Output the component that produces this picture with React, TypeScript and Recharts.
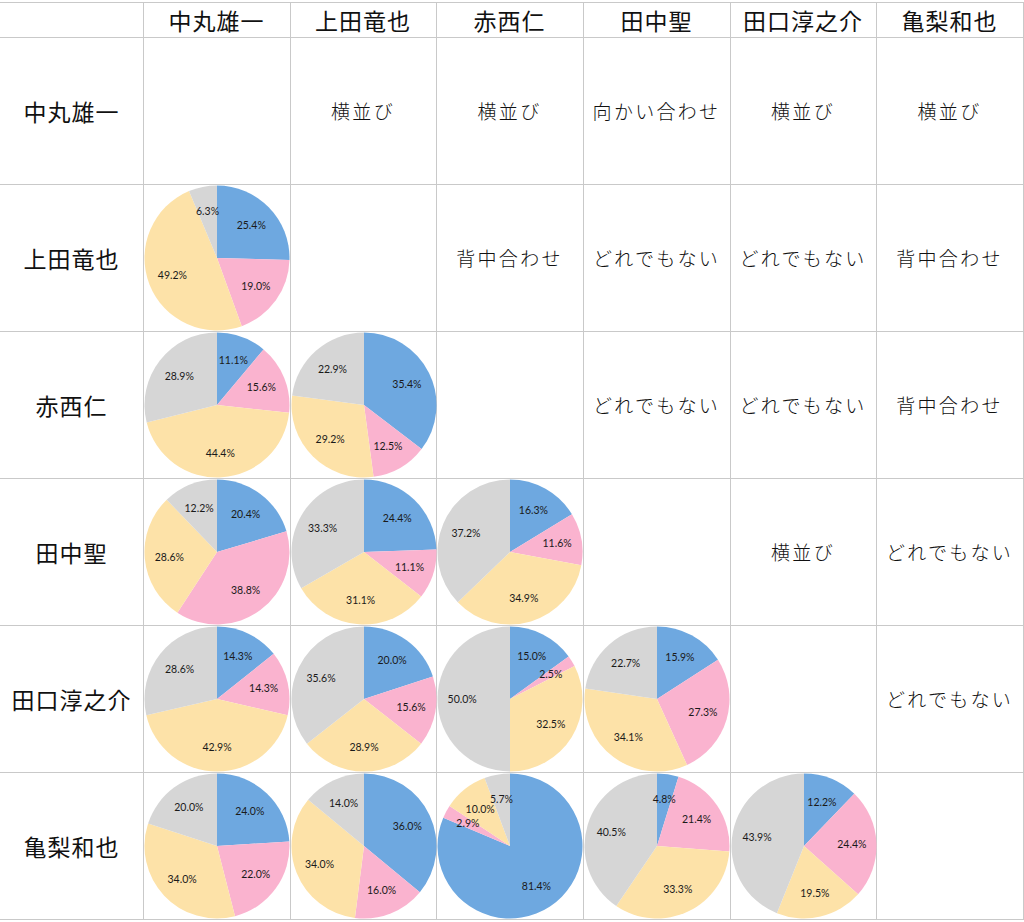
import { PieChart, Pie, Cell } from 'recharts';

const members = ['中丸雄一', '上田竜也', '赤西仁', '田中聖', '田口淳之介', '亀梨和也'];

const sliceColors = ['#6ea8e0', '#fab3cf', '#fde2a8', '#d6d6d6'];

// upper triangle: relation text, keyed "row-col"
const relations: Record<string, string> = {
  '0-1': '横並び',
  '0-2': '横並び',
  '0-3': '向かい合わせ',
  '0-4': '横並び',
  '0-5': '横並び',
  '1-2': '背中合わせ',
  '1-3': 'どれでもない',
  '1-4': 'どれでもない',
  '1-5': '背中合わせ',
  '2-3': 'どれでもない',
  '2-4': 'どれでもない',
  '2-5': '背中合わせ',
  '3-4': '横並び',
  '3-5': 'どれでもない',
  '4-5': 'どれでもない',
};

// lower triangle: shares in %, order blue / pink / yellow / gray
const ueda_nakamaru = [25.4, 19.0, 49.2, 6.3];
const akanishi_nakamaru = [11.1, 15.6, 44.4, 28.9];
const akanishi_ueda = [35.4, 12.5, 29.2, 22.9];
const tanaka_nakamaru = [20.4, 38.8, 28.6, 12.2];
const tanaka_ueda = [24.4, 11.1, 31.1, 33.3];
const tanaka_akanishi = [16.3, 11.6, 34.9, 37.2];
const taguchi_nakamaru = [14.3, 14.3, 42.9, 28.6];
const taguchi_ueda = [20.0, 15.6, 28.9, 35.6];
const taguchi_akanishi = [15.0, 2.5, 32.5, 50.0];
const taguchi_tanaka = [15.9, 27.3, 34.1, 22.7];
const kamenashi_nakamaru = [24.0, 22.0, 34.0, 20.0];
const kamenashi_ueda = [36.0, 16.0, 34.0, 14.0];
const kamenashi_akanishi = [81.4, 2.9, 10.0, 5.7];
const kamenashi_tanaka = [4.8, 21.4, 33.3, 40.5];
const kamenashi_taguchi = [12.2, 24.4, 19.5, 43.9];

const pies: Record<string, number[]> = {
  '1-0': ueda_nakamaru,
  '2-0': akanishi_nakamaru,
  '2-1': akanishi_ueda,
  '3-0': tanaka_nakamaru,
  '3-1': tanaka_ueda,
  '3-2': tanaka_akanishi,
  '4-0': taguchi_nakamaru,
  '4-1': taguchi_ueda,
  '4-2': taguchi_akanishi,
  '4-3': taguchi_tanaka,
  '5-0': kamenashi_nakamaru,
  '5-1': kamenashi_ueda,
  '5-2': kamenashi_akanishi,
  '5-3': kamenashi_tanaka,
  '5-4': kamenashi_taguchi,
};

const colX = [0, 143, 290, 436, 583, 730, 876, 1023];
const rowY = [2, 37, 184, 331, 478, 625, 772, 919];
const lineColor = '#c9c9c9';
const jpFont = '"Noto Sans CJK JP", "Noto Sans", sans-serif';

const RAD = Math.PI / 180;

function renderLabel(props: any) {
  const { cx, cy, midAngle, outerRadius, value } = props;
  const r = outerRadius * 0.66;
  const x = cx + r * Math.cos(-midAngle * RAD);
  const y = cy + r * Math.sin(-midAngle * RAD);
  return (
    <text
      x={x}
      y={y}
      textAnchor="middle"
      dominantBaseline="central"
      fill="#1a1a1a"
      fontSize={10.5}
      fontFamily="Lato, sans-serif"
    >
      {`${Number(value).toFixed(1)}%`}
    </text>
  );
}

function SharePie({ values }: { values: number[] }) {
  const data = values.map((v, i) => ({ name: `s${i}`, value: v }));
  return (
    <PieChart width={146} height={146}>
      <Pie
        data={data}
        dataKey="value"
        cx="50%"
        cy="50%"
        outerRadius={72.5}
        startAngle={90}
        endAngle={-270}
        stroke="none"
        labelLine={false}
        label={renderLabel}
        isAnimationActive={false}
      >
        {data.map((_, i) => (
          <Cell key={i} fill={sliceColors[i]} />
        ))}
      </Pie>
    </PieChart>
  );
}

function Box({ x0, x1, y0, y1, children }: any) {
  return (
    <div
      style={{
        position: 'absolute',
        left: x0,
        top: y0,
        width: x1 - x0,
        height: y1 - y0,
        display: 'flex',
        alignItems: 'center',
        justifyContent: 'center',
      }}
    >
      {children}
    </div>
  );
}

export default function App() {
  return (
    <div
      style={{
        position: 'absolute',
        left: 0,
        top: 0,
        width: 1024,
        height: 922,
        background: '#fff',
        overflow: 'hidden',
        fontFamily: jpFont,
      }}
    >
      {/* grid lines */}
      {rowY.map((y) => (
        <div key={`h${y}`} style={{ position: 'absolute', left: 0, top: y, width: 1024, height: 1, background: lineColor }} />
      ))}
      {colX.slice(1).map((x) => (
        <div key={`v${x}`} style={{ position: 'absolute', left: x, top: rowY[0], width: 1, height: rowY[7] - rowY[0], background: lineColor }} />
      ))}

      {/* column headers */}
      {members.map((m, j) => (
        <Box key={`ch${j}`} x0={colX[j + 1]} x1={colX[j + 2]} y0={rowY[0]} y1={rowY[1]}>
          <span style={{ fontSize: 23, color: '#111', letterSpacing: 1 }}>{m}</span>
        </Box>
      ))}

      {/* row headers */}
      {members.map((m, i) => (
        <Box key={`rh${i}`} x0={colX[0]} x1={colX[1]} y0={rowY[i + 1]} y1={rowY[i + 2]}>
          <span style={{ fontSize: 23, color: '#111', letterSpacing: 1 }}>{m}</span>
        </Box>
      ))}

      {/* body cells */}
      {members.map((_, i) =>
        members.map((__, j) => {
          const key = `${i}-${j}`;
          const x0 = colX[j + 1];
          const x1 = colX[j + 2];
          const y0 = rowY[i + 1];
          const y1 = rowY[i + 2];
          if (relations[key]) {
            return (
              <Box key={key} x0={x0} x1={x1} y0={y0} y1={y1}>
                <span style={{ fontSize: 19, fontWeight: 300, color: '#111', letterSpacing: 2.3, whiteSpace: 'nowrap' }}>
                  {relations[key]}
                </span>
              </Box>
            );
          }
          if (pies[key]) {
            return (
              <Box key={key} x0={x0} x1={x1 + 1} y0={y0} y1={y1 + 1}>
                <SharePie values={pies[key]} />
              </Box>
            );
          }
          return null;
        })
      )}
    </div>
  );
}
